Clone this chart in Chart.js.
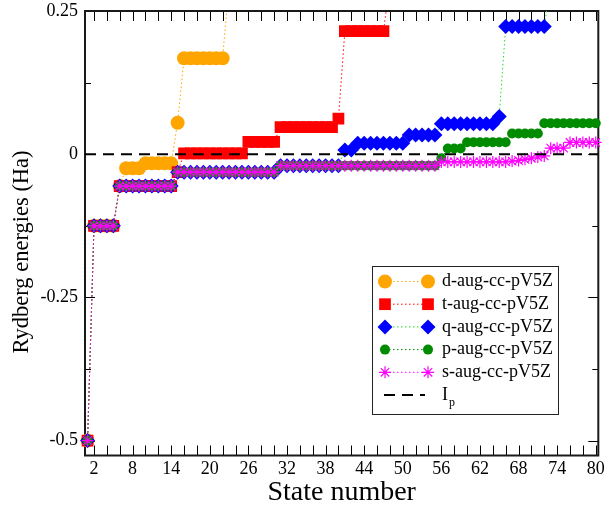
<!DOCTYPE html>
<html>
<head>
<meta charset="utf-8">
<script src="https://cdn.jsdelivr.net/npm/chart.js@4.4.1/dist/chart.umd.min.js"></script>
<style>
  html, body { margin: 0; padding: 0; background: #fff; }
  #wrap { width: 610px; height: 507px; }
</style>
</head>
<body>
<div id="wrap"><canvas id="chart" width="610" height="507"></canvas></div>
<script>
// axis ranges and ticks
const xMin = 0.6, xMax = 80.4;
const yMin = -0.526, yMax = 0.25;
const xTickVals = [2, 4, 6, 8, 10, 12, 14, 16, 18, 20, 22, 24, 26, 28, 30, 32, 34, 36, 38, 40,
                   42, 44, 46, 48, 50, 52, 54, 56, 58, 60, 62, 64, 66, 68, 70, 72, 74, 76, 78, 80];
const xTickLabels = [2, 8, 14, 20, 26, 32, 38, 44, 50, 56, 62, 68, 74, 80];
const yTickVals = [-0.5, -0.375, -0.25, -0.125, 0, 0.125, 0.25];
const yMajor = [-0.5, -0.25, 0, 0.25];
const ipLevel = 0;

// Rydberg energies (Ha), state 1..n
const dAug = [-0.5,
  -0.125, -0.125, -0.125, -0.125,
  -0.0556,
  -0.0245, -0.0245, -0.0245,
  -0.016, -0.016, -0.016, -0.016, -0.016,
  0.055,
  0.1675, 0.1675, 0.1675, 0.1675, 0.1675, 0.1675, 0.1675,
  0.30];

const tAug = [-0.5,
  -0.125, -0.125, -0.125, -0.125,
  -0.0556, -0.0556, -0.0556, -0.0556, -0.0556, -0.0556, -0.0556, -0.0556, -0.0556,
  -0.0313,
  0.0014, 0.0014, 0.0014, 0.0014, 0.0014, 0.0014, 0.0014, 0.0014, 0.0014, 0.0014,
  0.0215, 0.0215, 0.0215, 0.0215, 0.0215,
  0.0473, 0.0473, 0.0473, 0.0473, 0.0473, 0.0473, 0.0473, 0.0473, 0.0473,
  0.062,
  0.2147, 0.2147, 0.2147, 0.2147, 0.2147, 0.2147, 0.2147,
  0.30];

const qAug = [-0.5,
  -0.125, -0.125, -0.125, -0.125,
  -0.0556, -0.0556, -0.0556, -0.0556, -0.0556, -0.0556, -0.0556, -0.0556, -0.0556,
  -0.0313, -0.0313, -0.0313, -0.0313, -0.0313, -0.0313, -0.0313, -0.0313,
  -0.0313, -0.0313, -0.0313, -0.0313, -0.0313, -0.0313, -0.0313, -0.0313,
  -0.020, -0.020, -0.020, -0.020, -0.020, -0.020, -0.020, -0.020, -0.020, -0.020,
  0.0075, 0.0075,
  0.019, 0.019, 0.019, 0.019, 0.019, 0.019, 0.019, 0.019,
  0.0337, 0.0337, 0.0337, 0.0337, 0.0337,
  0.053, 0.053, 0.053, 0.053, 0.053, 0.053, 0.053, 0.053, 0.053,
  0.066,
  0.2228, 0.2228, 0.2228, 0.2228, 0.2228, 0.2228, 0.2228,
  0.30];

const pAug = [-0.5,
  -0.125, -0.125, -0.125, -0.125,
  -0.0556, -0.0556, -0.0556, -0.0556, -0.0556, -0.0556, -0.0556, -0.0556, -0.0556,
  -0.0313, -0.0313, -0.0313, -0.0313, -0.0313, -0.0313, -0.0313, -0.0313,
  -0.0313, -0.0313, -0.0313, -0.0313, -0.0313, -0.0313, -0.0313, -0.0313,
  -0.020, -0.020, -0.020, -0.020, -0.020, -0.020, -0.020, -0.020, -0.020, -0.020,
  -0.020, -0.020, -0.020, -0.020, -0.020, -0.020, -0.020, -0.020, -0.020, -0.020,
  -0.020, -0.020, -0.020, -0.020, -0.020,
  -0.007,
  0.010, 0.010, 0.010,
  0.021, 0.021, 0.021, 0.021, 0.021, 0.021, 0.021,
  0.036, 0.036, 0.036, 0.036, 0.036,
  0.054, 0.054, 0.054, 0.054, 0.054, 0.054, 0.054, 0.054, 0.054];

const sAug = [-0.5,
  -0.125, -0.125, -0.125, -0.125,
  -0.0556, -0.0556, -0.0556, -0.0556, -0.0556, -0.0556, -0.0556, -0.0556, -0.0556,
  -0.0313, -0.0313, -0.0313, -0.0313, -0.0313, -0.0313, -0.0313, -0.0313,
  -0.0313, -0.0313, -0.0313, -0.0313, -0.0313, -0.0313, -0.0313, -0.0313,
  -0.020, -0.020, -0.020, -0.020, -0.020, -0.020, -0.020, -0.020, -0.020, -0.020,
  -0.020, -0.020, -0.020, -0.020, -0.020, -0.020, -0.020, -0.020, -0.020, -0.020,
  -0.020, -0.020, -0.020, -0.020, -0.020,
  -0.0135, -0.0135, -0.0135, -0.0135, -0.0135, -0.0135, -0.0135, -0.0135, -0.0135, -0.0135, -0.0135,
  -0.012, -0.011, -0.009, -0.007, -0.005, -0.003,
  0.0105, 0.0105, 0.0105,
  0.0205, 0.0205, 0.0205, 0.0205, 0.0205];

const serif = "'Liberation Serif', 'Times New Roman', serif";
const yTitle = 'Rydberg energies (Ha)';

const series = [
  { label: 'd-aug-cc-pV5Z', values: dAug, color: '#FFA500', line: '#FFA500', style: 'circle', r: 7 },
  { label: 't-aug-cc-pV5Z', values: tAug, color: '#FF0000', line: '#FF0000', style: 'rect', r: 8.3 },
  { label: 'q-aug-cc-pV5Z', values: qAug, color: '#0000FF', line: '#22DD22', style: 'rectRot', r: 7.5 },
  { label: 'p-aug-cc-pV5Z', values: pAug, color: '#008B00', line: '#008B00', style: 'circle', r: 5 },
  { label: 's-aug-cc-pV5Z', values: sAug, color: '#FF00FF', line: '#FF00FF', style: 'star', r: 6 }
];

function toPoints(values) {
  return values.map((v, i) => ({ x: i + 1, y: v }));
}

const datasets = series.map((s, i) => ({
  label: s.label,
  data: toPoints(s.values),
  borderColor: s.line,
  borderWidth: 1,
  borderDash: [1.5, 2.5],
  pointStyle: s.style,
  pointRadius: s.r,
  pointBackgroundColor: s.color,
  pointBorderColor: s.color,
  pointBorderWidth: s.style === 'star' ? 1.2 : 0,
  tension: 0,
  fill: false,
  order: series.length - i,
  clip: { left: 12, right: 12, top: 0, bottom: 12 }
}));

datasets.push({
  label: 'Ip',
  data: [{ x: xMin, y: ipLevel }, { x: xMax, y: ipLevel }],
  borderColor: '#000',
  borderWidth: 2,
  borderDash: [11, 7],
  pointRadius: 0,
  fill: false,
  order: 0
});

// inward ticks on all four sides + frame + rotated y title
const frameTicks = {
  id: 'frameTicks',
  beforeDatasetsDraw(chart) {
    const { ctx, chartArea: a, scales: { x, y } } = chart;
    ctx.save();
    ctx.strokeStyle = '#000';
    ctx.lineWidth = 1;
    ctx.beginPath();
    x.ticks.forEach(t => {
      const px = Math.round(x.getPixelForValue(t.value)) + 0.5;
      ctx.moveTo(px, a.bottom); ctx.lineTo(px, a.bottom - 10);
      ctx.moveTo(px, a.top); ctx.lineTo(px, a.top + 10);
    });
    y.ticks.forEach(t => {
      const py = Math.round(y.getPixelForValue(t.value)) + 0.5;
      const len = yMajor.includes(t.value) ? 10 : 6;
      ctx.moveTo(a.left, py); ctx.lineTo(a.left + len, py);
      ctx.moveTo(a.right, py); ctx.lineTo(a.right - len, py);
    });
    ctx.stroke();
    ctx.lineWidth = 2;
    ctx.strokeStyle = '#1a1a1a';
    ctx.strokeRect(a.left, a.top, a.right - a.left, a.bottom - a.top);

    ctx.translate(22, 252);
    ctx.rotate(-Math.PI / 2);
    ctx.fillStyle = '#000';
    ctx.font = '22.5px ' + serif;
    ctx.textAlign = 'center';
    ctx.textBaseline = 'middle';
    ctx.fillText(yTitle, 0, 0);
    ctx.restore();
  }
};

// legend box inside the plot
const boxLegend = {
  id: 'boxLegend',
  afterDraw(chart) {
    const { ctx } = chart;
    const left = 372, top = 266, w = 186, h = 148;
    const rowH = 22.7, firstRow = 281.5;
    const m1 = 385, m2 = 428, textX = 442;
    ctx.save();
    ctx.fillStyle = '#fff';
    ctx.fillRect(left, top, w, h);
    ctx.strokeStyle = '#222';
    ctx.lineWidth = 1;
    ctx.strokeRect(left + 0.5, top + 0.5, w, h);

    chart.data.datasets.forEach((ds, i) => {
      const yy = firstRow + i * rowH;
      ctx.save();
      ctx.strokeStyle = ds.borderColor;
      ctx.lineWidth = ds.borderWidth;
      ctx.setLineDash(ds.borderDash || []);
      ctx.beginPath();
      if (ds.pointRadius) {
        ctx.moveTo(m1, yy); ctx.lineTo(m2, yy);
      } else {
        ctx.moveTo(m1 - 1, yy); ctx.lineTo(m2 - 3, yy);
      }
      ctx.stroke();
      ctx.restore();

      if (ds.pointRadius) {
        ctx.save();
        ctx.setLineDash([]);
        ctx.fillStyle = ds.pointBackgroundColor;
        ctx.strokeStyle = ds.pointBorderColor;
        ctx.lineWidth = ds.pointBorderWidth || 0;
        const opts = { pointStyle: ds.pointStyle, radius: ds.pointRadius, rotation: 0, borderWidth: ds.pointBorderWidth };
        Chart.helpers.drawPoint(ctx, opts, m1, yy);
        Chart.helpers.drawPoint(ctx, opts, m2, yy);
        ctx.restore();
      }

      ctx.fillStyle = '#000';
      ctx.textBaseline = 'middle';
      ctx.textAlign = 'left';
      if (ds.label === 'Ip') {
        ctx.font = '18px ' + serif;
        ctx.fillText('I', textX, yy);
        const iw = ctx.measureText('I').width;
        ctx.font = '12px ' + serif;
        ctx.fillText('p', textX + iw + 1, yy + 8);
      } else {
        ctx.font = '18px ' + serif;
        ctx.fillText(ds.label, textX, yy);
      }
    });
    ctx.restore();
  }
};

new Chart(document.getElementById('chart'), {
  type: 'line',
  data: { datasets },
  options: {
    responsive: false,
    animation: false,
    events: [],
    layout: { padding: { top: 11, right: 11.7, left: 0, bottom: 0 } },
    plugins: { legend: { display: false }, tooltip: { enabled: false } },
    scales: {
      x: {
        type: 'linear',
        min: xMin,
        max: xMax,
        afterBuildTicks: s => { s.ticks = xTickVals.map(v => ({ value: v })); },
        afterFit: s => { s.height = 51.5; s.paddingLeft = 0; s.paddingRight = 0; },
        grid: { display: false, drawTicks: false },
        border: { display: false },
        ticks: {
          autoSkip: false,
          maxRotation: 0,
          padding: 3,
          color: '#000',
          font: { family: serif, size: 18 },
          callback: v => xTickLabels.includes(v) ? String(v) : ''
        },
        title: {
          display: true,
          text: 'State number',
          color: '#000',
          font: { family: serif, size: 28 },
          padding: { top: 0, bottom: -2 }
        }
      },
      y: {
        type: 'linear',
        min: yMin,
        max: yMax,
        afterBuildTicks: s => { s.ticks = yTickVals.map(v => ({ value: v })); },
        afterFit: s => { s.width = 85; s.paddingTop = 0; s.paddingBottom = 0; },
        grid: { display: false, drawTicks: false },
        border: { display: false },
        ticks: {
          autoSkip: false,
          padding: 7,
          color: '#000',
          font: { family: serif, size: 18 },
          callback: v => yMajor.includes(v) ? String(v) : ''
        },
        title: { display: false }
      }
    }
  },
  plugins: [frameTicks, boxLegend]
});
</script>
</body>
</html>
